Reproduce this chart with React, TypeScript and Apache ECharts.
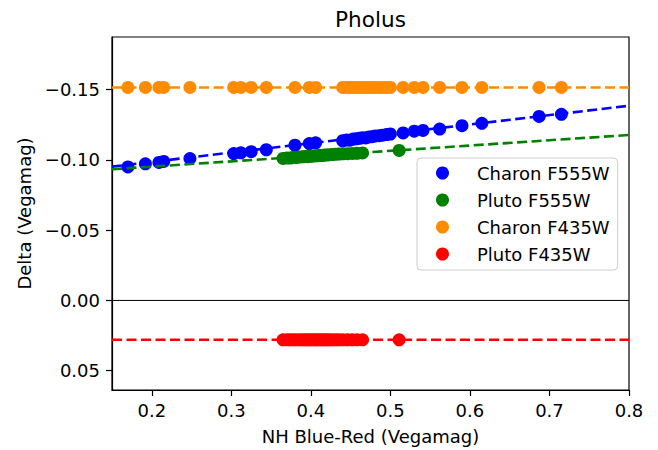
import React, { useEffect, useRef } from "react";
import * as echarts from "echarts";

// ---- data ----
const charonX = [
  0.170, 0.192, 0.209, 0.215, 0.248, 0.303, 0.312, 0.325, 0.344, 0.380, 0.398, 0.406,
  0.440, 0.445, 0.449, 0.453, 0.457, 0.461, 0.465, 0.469, 0.473, 0.477, 0.481, 0.486,
  0.490, 0.495, 0.500, 0.516, 0.530, 0.541, 0.562, 0.590, 0.615, 0.687, 0.715,
];
const charonF555W = [
  -0.0950, -0.0972, -0.0982, -0.0989, -0.1009, -0.1045, -0.1050, -0.1058, -0.1072, -0.1104, -0.1116, -0.1121,
  -0.1136, -0.1142, -0.1140, -0.1148, -0.1150, -0.1153, -0.1158, -0.1156, -0.1163, -0.1165, -0.1170, -0.1172,
  -0.1176, -0.1180, -0.1184, -0.1192, -0.1204, -0.1209, -0.1219, -0.1243, -0.1260, -0.1309, -0.1324,
];
const charonF435W = [
  -0.1515, -0.1515, -0.1515, -0.1515, -0.1515, -0.1515, -0.1515, -0.1515, -0.1515, -0.1515, -0.1515, -0.1515,
  -0.1515, -0.1515, -0.1515, -0.1515, -0.1515, -0.1515, -0.1515, -0.1515, -0.1515, -0.1515, -0.1515, -0.1515,
  -0.1515, -0.1515, -0.1515, -0.1515, -0.1515, -0.1515, -0.1515, -0.1515, -0.1515, -0.1515, -0.1515,
];
const plutoX = [
  0.365, 0.370, 0.374, 0.378, 0.382, 0.386, 0.390, 0.393, 0.396, 0.399, 0.402, 0.405, 0.408, 0.411,
  0.414, 0.417, 0.420, 0.423, 0.427, 0.431, 0.435, 0.440, 0.446, 0.452, 0.458, 0.465, 0.511,
];
const plutoF555W = [
  -0.1010, -0.1014, -0.1013, -0.1018, -0.1017, -0.1021, -0.1022, -0.1024, -0.1023, -0.1027, -0.1026, -0.1030,
  -0.1029, -0.1032, -0.1031, -0.1035, -0.1034, -0.1037, -0.1038, -0.1040, -0.1041, -0.1043, -0.1044, -0.1046,
  -0.1047, -0.1049, -0.1067,
];
const plutoF435W = [
  0.028, 0.028, 0.028, 0.028, 0.028, 0.028, 0.028, 0.028, 0.028, 0.028, 0.028, 0.028, 0.028, 0.028,
  0.028, 0.028, 0.028, 0.028, 0.028, 0.028, 0.028, 0.028, 0.028, 0.028, 0.028, 0.028, 0.028,
];
// fitted dashed lines: endpoints at the x-axis limits
const fitX = [0.15, 0.8];
const charonF555WFit = [-0.0952, -0.1385];
const plutoF555WFit = [-0.0933, -0.1177];
const charonF435WFit = [-0.1515, -0.1515];
const plutoF435WFit = [0.028, 0.028];

const xTicks = [0.2, 0.3, 0.4, 0.5, 0.6, 0.7, 0.8];
const yTicks = [-0.15, -0.1, -0.05, 0, 0.05];

const seriesNames = ["Charon F555W", "Pluto F555W", "Charon F435W", "Pluto F435W"];
const colors = ["#0000ff", "#008000", "#ff8c00", "#ff0000"];

const FONT = "DejaVu Sans";

const zip = (xs: number[], ys: number[]) => xs.map((x, i) => [x, ys[i]]);

export default function App() {
  const ref = useRef<HTMLDivElement>(null);
  useEffect(() => {
    if (!ref.current) return;
    const chart = echarts.init(ref.current, null, { renderer: "svg" });
    const scatterData = [
      zip(charonX, charonF555W),
      zip(plutoX, plutoF555W),
      zip(charonX, charonF435W),
      zip(plutoX, plutoF435W),
    ];
    const fits = [charonF555WFit, plutoF555WFit, charonF435WFit, plutoF435WFit];
    const scatterSeries = seriesNames.map((name, i) => ({
      name,
      type: "scatter",
      data: scatterData[i],
      symbol: "circle",
      symbolSize: 13,
      itemStyle: { color: colors[i], opacity: 1 },
      z: 2,
      silent: true,
    }));
    const lineSeries = seriesNames.map((name, i) => ({
      name: name + " fit",
      type: "line",
      data: zip(fitX, fits[i]),
      showSymbol: false,
      symbol: "none",
      lineStyle: { color: colors[i], width: 2.6, type: [10, 4.5] },
      z: 3,
      silent: true,
    }));
    const zeroLine = {
      name: "zero",
      type: "line",
      data: zip(fitX, [0, 0]),
      showSymbol: false,
      symbol: "none",
      lineStyle: { color: "#000000", width: 1, type: "solid" },
      z: 1,
      silent: true,
    };
    chart.setOption({
      animation: false,
      textStyle: { fontFamily: FONT },
      title: {
        text: "Pholus",
        left: 370.5,
        top: 8,
        padding: 0,
        textAlign: "center",
        textStyle: { fontFamily: FONT, fontSize: 21.6, fontWeight: "normal", color: "#000" },
      },
      grid: {
        left: 112,
        right: 29,
        top: 37,
        bottom: 59,
        show: true,
        borderColor: "#000",
        borderWidth: 1.2,
        backgroundColor: "transparent",
      },
      legend: {
        data: seriesNames,
        orient: "vertical",
        left: 417,
        top: 158,
        padding: [6, 8, 7, 19],
        itemGap: 9,
        itemWidth: 13,
        itemHeight: 13,
        icon: "circle",
        backgroundColor: "#ffffff",
        borderColor: "#cccccc",
        borderWidth: 1,
        borderRadius: 4,
        textStyle: { fontFamily: FONT, fontSize: 18, color: "#000", padding: [0, 0, 0, 23] },
      },
      xAxis: {
        type: "value",
        min: 0.15,
        max: 0.8,
        name: "NH Blue-Red (Vegamag)",
        nameLocation: "middle",
        nameGap: 37,
        nameTextStyle: { fontFamily: FONT, fontSize: 18, color: "#000" },
        axisLine: { show: true, onZero: false, lineStyle: { color: "#000", width: 1.2 } },
        axisTick: { show: true, customValues: xTicks, length: 6, lineStyle: { color: "#000", width: 1.2 } },
        axisLabel: {
          customValues: xTicks,
          margin: 11,
          fontFamily: FONT,
          fontSize: 18,
          color: "#000",
          formatter: (v: number) => v.toFixed(1),
        },
        splitLine: { show: false },
      },
      yAxis: {
        type: "value",
        inverse: true,
        min: -0.1874,
        max: 0.0637,
        name: "Delta (Vegamag)",
        nameLocation: "middle",
        nameRotate: 90,
        nameGap: 78,
        nameTextStyle: { fontFamily: FONT, fontSize: 18, color: "#000" },
        axisLine: { show: true, onZero: false, lineStyle: { color: "#000", width: 1.2 } },
        axisTick: { show: true, customValues: yTicks, length: 6, lineStyle: { color: "#000", width: 1.2 } },
        axisLabel: {
          customValues: yTicks,
          margin: 12,
          fontFamily: FONT,
          fontSize: 18,
          color: "#000",
          formatter: (v: number) => (v < -1e-9 ? "\u2212" : "") + Math.abs(v).toFixed(2),
        },
        splitLine: { show: false },
      },
      series: [zeroLine, ...scatterSeries, ...lineSeries],
    });
    return () => chart.dispose();
  }, []);
  return (
    <div
      ref={ref}
      style={{ position: "fixed", left: 0, top: 0, width: 658, height: 450, background: "#fff" }}
    />
  );
}
